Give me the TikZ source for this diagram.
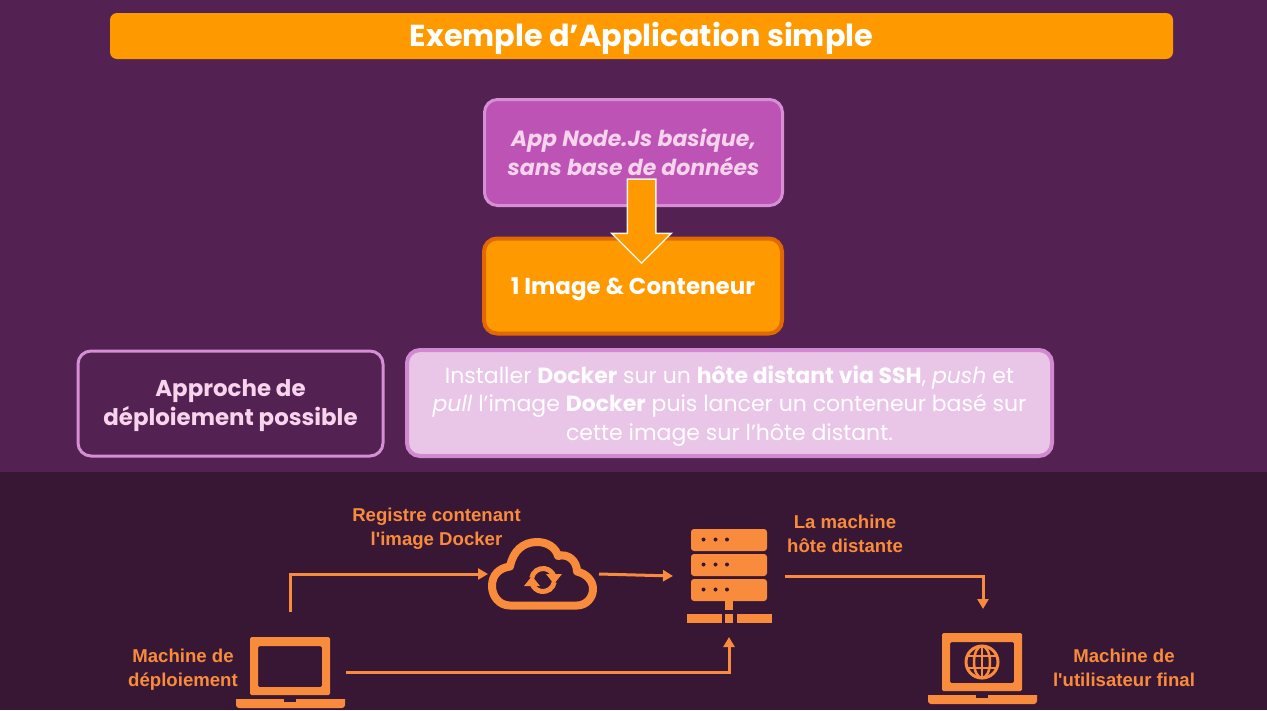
\documentclass[tikz,border=0pt]{standalone}
\usepackage{fontspec}
\setmainfont{Poppins}
\newfontfamily\labelfont{Liberation Sans}
\usetikzlibrary{arrows.meta,shapes.arrows}

\definecolor{fondhaut}{HTML}{532252}
\definecolor{fondbas}{HTML}{371733}
\definecolor{orange}{HTML}{FF9900}
\definecolor{orangefonce}{HTML}{E26800}
\definecolor{mauve}{HTML}{BC53B5}
\definecolor{mauveclair}{HTML}{D68FD4}
\definecolor{rose}{HTML}{E9C5E7}
\definecolor{texterose}{HTML}{F7D3EC}
\definecolor{icone}{HTML}{F98B3C}

\tikzset{
  boite/.style={draw, rounded corners=13pt, align=center, inner sep=0pt},
  texte/.style={align=center, inner sep=0pt},
  etiquette/.style={font=\labelfont\fontsize{18.6}{24}\selectfont\bfseries, text=icone, align=center},
  fantome/.style={inner sep=0pt, outer sep=0pt},
  lien/.style={draw=icone, line width=3pt, ->},
  ordi/.pic={
    \fill[icone, even odd rule, rounded corners=1.5pt] (0,0) rectangle (80,58) (8,9) rectangle (72,50);
    \fill[icone] (-14,62) -- (95,62) [rounded corners=3pt] -- (95,71) -- (-14,71) [sharp corners] -- cycle;
    \fill[fondbas] (34,62) rectangle (46,65);
  }
}

\begin{document}
\begin{tikzpicture}[x=1pt, y=-1pt, >={Triangle[length=10pt, width=11pt]}]
  \useasboundingbox (0,0) rectangle (1267,710);

  % Fonds
  \fill[fondhaut] (0,0) rectangle (1267,472);
  \fill[fondbas] (0,472) rectangle (1267,710);

  % Titre
  \node[fill=orange, rounded corners=7pt, minimum width=1063pt, minimum height=46pt] (titre) at (641.5,36) {};
  \node[texte, text=white, font=\fontsize{30.3}{36}\selectfont\bfseries] (txttitre) at (641.5,38.5) {Exemple d’Application simple};

  % Boites du haut
  \node[boite, fill=mauve, draw=mauveclair, line width=3pt, minimum width=298pt, minimum height=106pt,
        text=texterose, font=\fontsize{22}{29}\selectfont\bfseries\itshape] (appli) at (633.5,152.5)
        {App Node.Js basique,\\sans base de données};
  \node[boite, fill=orange, draw=orangefonce, line width=4pt, minimum width=298pt, minimum height=95pt] (conteneur) at (633,286) {};
  \node[texte, text=white, font=\fontsize{23}{29}\selectfont\bfseries] (txtconteneur) at (633,289.5) {1 Image \& Conteneur};
  \node[single arrow, single arrow head extend=15.5pt, minimum height=84pt, minimum width=57pt, inner sep=13.5pt,
        fill=orange, draw=white!90!orange, line width=1.5pt, rotate=-90] (fleche) at (641.5,214) {};

  % Approche
  \node[boite, fill=fondhaut, draw=mauveclair, line width=3pt, minimum width=305pt, minimum height=105pt] (approche) at (230.5,403.5) {};
  \node[texte, text=texterose, font=\fontsize{22.9}{29}\selectfont\bfseries] (txtapproche) at (230.5,406)
        {Approche de\\déploiement possible};
  \node[boite, fill=rose, draw=mauveclair!90!mauve, line width=4pt, minimum width=645pt, minimum height=106pt] (detail) at (729.5,403) {};
  \node[texte, text=white, font=\fontsize{22}{28.5}\selectfont] (txtdetail) at (729.5,406)
        {Installer \textbf{Docker} sur un \textbf{hôte distant via SSH}, \textit{push} et\\
         \textit{pull} l’image \textbf{Docker} puis lancer un conteneur basé sur\\
         cette image sur l’hôte distant.};

  % Machine de deploiement
  \pic at (250,637) {ordi};
  \node[fantome, minimum width=112pt, minimum height=121pt] (deploiement) at (290,672.5) {};
  \node[etiquette] (txtdeploiement) at (183,669.5) {Machine de\\déploiement};

  % Registre
  \draw[icone, line width=8pt, line join=round] (510,605.5)
    .. controls (499,605.5) and (492,596) .. (492,586)
    .. controls (492,575) and (499,568) .. (510,566.5)
    .. controls (513,551) and (523,542) .. (537,542)
    .. controls (548,542) and (556,548) .. (558,556)
    .. controls (568,553) and (577,561) .. (577,571.5)
    .. controls (587,574) and (593,581) .. (593,589)
    .. controls (593,598) and (586,605.5) .. (577,605.5) -- cycle;
  \draw[icone, line width=5pt] (531.7,578) arc[start angle=190, end angle=340, radius=11.5];
  \fill[icone] (546,574) -- (562,574) -- (554,584) -- cycle;
  \draw[icone, line width=5pt] (554.3,582) arc[start angle=10, end angle=160, radius=11.5];
  \fill[icone] (524,586) -- (540,586) -- (532,576) -- cycle;
  \node[fantome, minimum width=111pt, minimum height=72pt] (registre) at (543.5,574) {};
  \node[etiquette] (txtregistre) at (436.5,528.5) {Registre contenant\\l'image Docker};

  % Machine hote
  \foreach \y in {529,554,579} {
    \fill[icone, rounded corners=3pt] (691,\y) rectangle (767,\y+22);
    \foreach \x in {703.5,715.5,727} \fill[fondbas] (\x,\y+10.5) circle[radius=2];
  }
  \fill[icone] (725,601) rectangle (733,610);
  \fill[icone] (687,614) rectangle (722,623);
  \fill[icone] (725,614) rectangle (733,623);
  \fill[icone] (737,614) rectangle (772,623);
  \node[fantome, minimum width=112pt, minimum height=122pt] (hote) at (729,576) {};
  \node[etiquette] (txthote) at (845,534) {La machine\\hôte distante};

  % Utilisateur final
  \pic at (942,633) {ordi};
  \draw[icone, line width=3pt] (982,662) circle[radius=16];
  \draw[icone, line width=2.5pt] (982,662) ellipse[x radius=8, y radius=16];
  \draw[icone, line width=2.5pt] (982,646) -- (982,678);
  \draw[icone, line width=2.5pt] (968,656) -- (996,656);
  \draw[icone, line width=2.5pt] (968,668) -- (996,668);
  \node[fantome, minimum width=100pt, minimum height=100pt] (final) at (983,659) {};
  \node[etiquette] (txtfinal) at (1124,667.5) {Machine de\\l'utilisateur final};

  % Liens
  \draw[lien] (deploiement.north) |- (registre.west);
  \draw[lien] (registre.east) -- (hote.west);
  \draw[lien] (deploiement.east) -| (hote.south);
  \draw[lien] (hote.east) -| (final.north);
\end{tikzpicture}
\end{document}
